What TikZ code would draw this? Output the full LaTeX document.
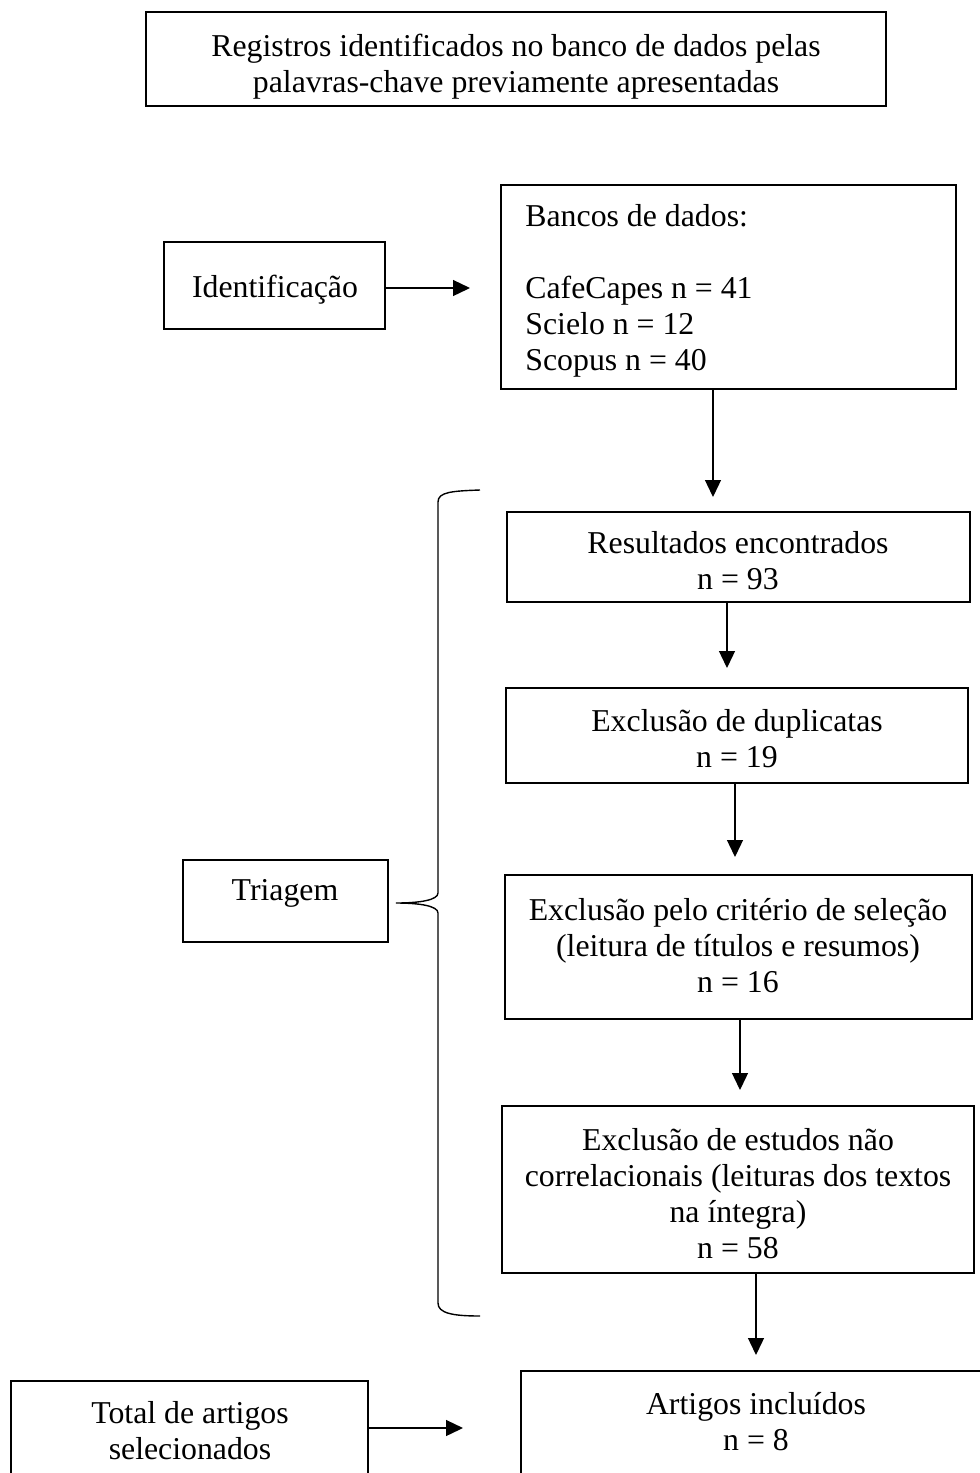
\documentclass[tikz,border=0pt]{standalone}
\usepackage{fontspec}
\setmainfont{Liberation Serif}
\usetikzlibrary{arrows.meta,fit}
\begin{document}
\begin{tikzpicture}[x=0.5pt,y=-0.5pt,
  boxshape/.style={draw, line width=0.95pt, inner sep=0pt, rectangle},
  txt/.style={align=center, font=\fontsize{15.9}{18}\selectfont, inner sep=0pt},
  arr/.style={line width=0.65pt, -{Triangle[length=8.5pt,width=8pt]}},
  bracestyle/.style={line width=0.7pt}]
\useasboundingbox (0,0) rectangle (980,1473);
\clip (0,0) rectangle (980,1473);
% boxes
\node[boxshape, fit={(146,12) (886,106)}] (topbox) {};
\node[boxshape, fit={(164,242) (385,329)}] (idbox) {};
\node[boxshape, fit={(501,185) (956,389)}] (bancosbox) {};
\node[boxshape, fit={(507,512) (970,602)}] (resbox) {};
\node[boxshape, fit={(506,688) (968,783)}] (dupbox) {};
\node[boxshape, fit={(505,875) (972,1019)}] (critbox) {};
\node[boxshape, fit={(502,1106) (974,1273)}] (estbox) {};
\node[boxshape, fit={(183,860) (388,942)}] (tribox) {};
\node[boxshape, fit={(11,1381) (368,1520)}] (totalbox) {};
\node[boxshape, fit={(521,1371) (1020,1520)}] (artbox) {};
% texts
\node[txt] (toptxt) at (516,67) {Registros identificados no banco de dados pelas\\palavras-chave previamente apresentadas};
\node[txt] (idtxt) at (275,290) {Identificação};
\node[txt, align=left, anchor=west] (bancostxt) at (525,291) {Bancos de dados:\\[18pt]CafeCapes n = 41\\Scielo n = 12\\Scopus n = 40};
\node[txt] (restxt) at (738,561) {Resultados encontrados\\n = 93};
\node[txt] (duptxt) at (737,739) {Exclusão de duplicatas\\n = 19};
\node[txt] (crittxt) at (738,946) {Exclusão pelo critério de seleção\\(leitura de títulos e resumos)\\n = 16};
\node[txt] (esttxt) at (738,1194) {Exclusão de estudos não\\correlacionais (leituras dos textos\\na íntegra)\\n = 58};
\node[txt] (tritxt) at (285,893) {Triagem};
\node[txt] (totaltxt) at (190,1431) {Total de artigos\\selecionados};
\node[txt] (arttxt) at (756,1422) {Artigos incluídos\\n = 8};
% arrow ends
\coordinate (a0) at (470,288);
\coordinate (a1) at (713,497);
\coordinate (a2) at (727,668);
\coordinate (a3) at (735,857);
\coordinate (a4) at (740,1090);
\coordinate (a5) at (756,1355);
\coordinate (a6) at (463,1428);
\draw[arr] (idbox.east |- a0) -- (a0);
\draw[arr] (bancosbox.south -| a1) -- (a1);
\draw[arr] (resbox.south -| a2) -- (a2);
\draw[arr] (dupbox.south -| a3) -- (a3);
\draw[arr] (critbox.south -| a4) -- (a4);
\draw[arr] (estbox.south -| a5) -- (a5);
\draw[arr] (totalbox.east |- a6) -- (a6);
% brace
\draw[bracestyle] (480,490) .. controls (452,491) and (438,492) .. (438,502)
  -- (438,893) .. controls (438,900) and (420,903) .. (396,903)
  .. controls (420,903) and (438,906) .. (438,913)
  -- (438,1303) .. controls (438,1313) and (452,1316) .. (480,1316);
\end{tikzpicture}
\end{document}
